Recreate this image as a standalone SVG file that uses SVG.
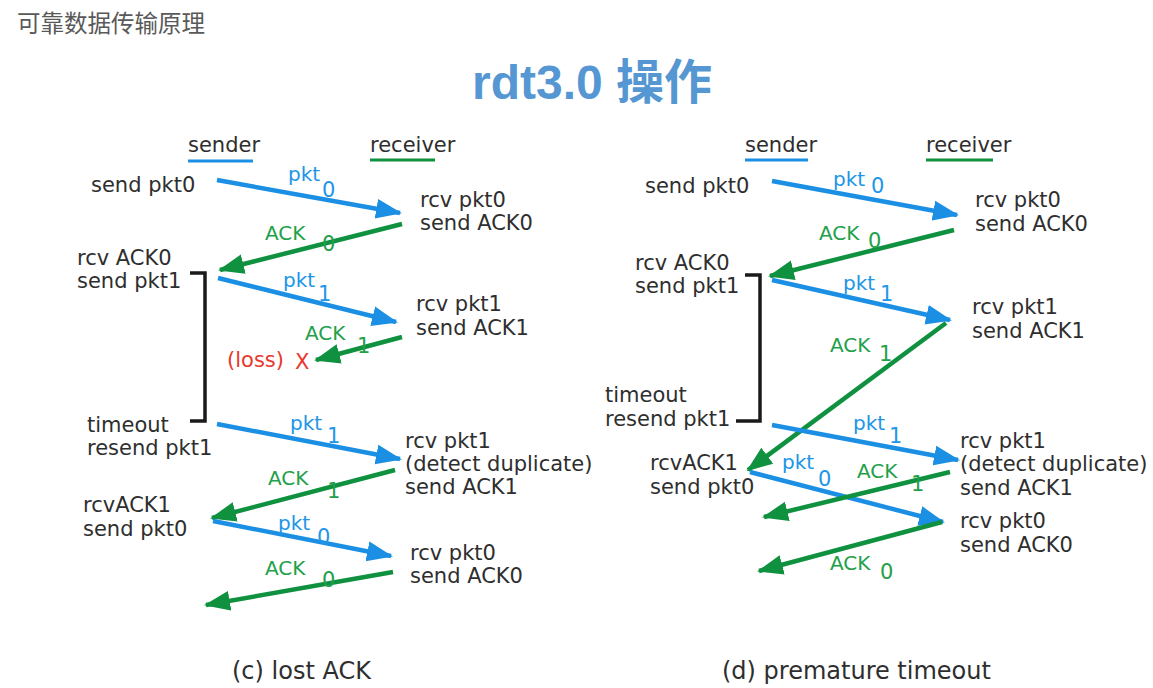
<svg xmlns="http://www.w3.org/2000/svg" width="1153" height="688" viewBox="0 0 1153 688">
<style>
.t{font-family:"DejaVu Sans","Liberation Sans",sans-serif;font-size:21px;fill:#2e2e2e}
.pb{font-family:"DejaVu Sans","Liberation Sans",sans-serif;font-size:20px;fill:#2196E8}
.ag{font-family:"DejaVu Sans","Liberation Sans",sans-serif;font-size:20px;fill:#22A04A}
.sb{font-size:21px}
.red{font-family:"DejaVu Sans","Liberation Sans",sans-serif;font-size:21px;fill:#E8382D}
.cap{font-family:"DejaVu Sans","Liberation Sans",sans-serif;font-size:24px;fill:#2e2e2e}
.b{stroke:#1A8FE3;stroke-width:4.5;fill:none;marker-end:url(#mb)}
.g{stroke:#0F9140;stroke-width:4.5;fill:none;marker-end:url(#mg)}
.br{stroke:#1a1a1a;stroke-width:3.5;fill:none}
</style>
<defs>
<marker id="mb" markerUnits="userSpaceOnUse" markerWidth="26" markerHeight="22" viewBox="0 0 26 22" refX="24" refY="11" orient="auto"><path d="M0,1 L26,11 L0,21 z" fill="#1A8FE3"/></marker>
<marker id="mg" markerUnits="userSpaceOnUse" markerWidth="26" markerHeight="22" viewBox="0 0 26 22" refX="24" refY="11" orient="auto"><path d="M0,1 L26,11 L0,21 z" fill="#0F9140"/></marker>
</defs>
<rect width="1153" height="688" fill="#fff"/>
<text x="17" y="32" style="font-family:'Noto Sans CJK SC',sans-serif;font-size:23.5px;fill:#595959">可靠数据传输原理</text>
<text x="472" y="99" style="font-family:'Liberation Sans','Noto Sans CJK SC',sans-serif;font-size:48px;font-weight:bold;fill:#5597D3">rdt3.0 操作</text>

<g id="connectors">
<line class="b" x1="217" y1="180" x2="400" y2="213"/>
<line class="g" x1="402" y1="224" x2="220" y2="270"/>
<line class="b" x1="218" y1="278" x2="396" y2="322"/>
<line class="g" x1="402" y1="337" x2="316" y2="360"/>
<line class="b" x1="217" y1="424" x2="400" y2="459"/>
<line class="g" x1="395" y1="470" x2="212" y2="518"/>
<line class="b" x1="213" y1="521" x2="391" y2="556"/>
<line class="g" x1="393" y1="572" x2="206" y2="605"/>
<polyline class="br" points="190,273 205,273 205,421 190,421"/>
<line class="b" x1="772" y1="181" x2="957" y2="215"/>
<line class="g" x1="954" y1="230" x2="770" y2="276"/>
<line class="b" x1="772" y1="280" x2="950" y2="320"/>
<line class="g" x1="946" y1="323" x2="748" y2="470"/>
<line class="b" x1="772" y1="425" x2="958" y2="460"/>
<line class="b" x1="750" y1="472" x2="943" y2="522"/>
<line class="g" x1="950" y1="472" x2="764" y2="517"/>
<line class="g" x1="942" y1="522" x2="759" y2="571"/>
<polyline class="br" points="745,275 760,275 760,421 736,421"/>
</g>

<g id="left-header">
<text class="t" x="188" y="152">sender</text>
<line x1="188" y1="161" x2="253" y2="161" stroke="#1A8FE3" stroke-width="3"/>
<text class="t" x="370" y="152">receiver</text>
<line x1="370" y1="160" x2="435" y2="160" stroke="#0F9140" stroke-width="3"/>
</g>
<g id="left-sender">
<text class="t" x="91" y="192">send pkt0</text>
<text class="t" x="77" y="265">rcv ACK0</text>
<text class="t" x="77" y="288">send pkt1</text>
<text class="t" x="87" y="432">timeout</text>
<text class="t" x="87" y="455">resend pkt1</text>
<text class="t" x="83" y="512">rcvACK1</text>
<text class="t" x="83" y="536">send pkt0</text>
</g>
<g id="left-receiver">
<text class="t" x="420" y="207">rcv pkt0</text>
<text class="t" x="420" y="230">send ACK0</text>
<text class="t" x="416" y="311">rcv pkt1</text>
<text class="t" x="416" y="335">send ACK1</text>
<text class="t" x="405" y="448">rcv pkt1</text>
<text class="t" x="405" y="471">(detect duplicate)</text>
<text class="t" x="405" y="494">send ACK1</text>
<text class="t" x="410" y="560">rcv pkt0</text>
<text class="t" x="410" y="583">send ACK0</text>
</g>
<g id="left-labels">
<text class="pb" x="288" y="181">pkt</text><text class="pb sb" x="322" y="197">0</text>
<text class="ag" x="265" y="240">ACK</text><text class="ag sb" x="322" y="251">0</text>
<text class="pb" x="283" y="287">pkt</text><text class="pb sb" x="318" y="301">1</text>
<text class="ag" x="305" y="340">ACK</text><text class="ag sb" x="357" y="353">1</text>
<text class="red" x="227" y="367">(loss)</text><text class="red" x="295" y="369">X</text>
<text class="pb" x="290" y="430">pkt</text><text class="pb sb" x="327" y="443">1</text>
<text class="ag" x="268" y="485">ACK</text><text class="ag sb" x="327" y="498">1</text>
<text class="pb" x="278" y="530">pkt</text><text class="pb sb" x="317" y="544">0</text>
<text class="ag" x="265" y="575">ACK</text><text class="ag sb" x="322" y="587">0</text>
</g>
<g id="caption-c"><text class="cap" x="232" y="679">(c) lost ACK</text></g>

<g id="right-header">
<text class="t" x="745" y="152">sender</text>
<line x1="745" y1="160" x2="808" y2="160" stroke="#1A8FE3" stroke-width="3"/>
<text class="t" x="926" y="152">receiver</text>
<line x1="926" y1="160" x2="993" y2="160" stroke="#0F9140" stroke-width="3"/>
</g>
<g id="right-sender">
<text class="t" x="645" y="193">send pkt0</text>
<text class="t" x="635" y="270">rcv ACK0</text>
<text class="t" x="635" y="293">send pkt1</text>
<text class="t" x="605" y="402">timeout</text>
<text class="t" x="605" y="426">resend pkt1</text>
<text class="t" x="650" y="470">rcvACK1</text>
<text class="t" x="650" y="494">send pkt0</text>
</g>
<g id="right-receiver">
<text class="t" x="975" y="207">rcv pkt0</text>
<text class="t" x="975" y="231">send ACK0</text>
<text class="t" x="972" y="314">rcv pkt1</text>
<text class="t" x="972" y="338">send ACK1</text>
<text class="t" x="960" y="448">rcv pkt1</text>
<text class="t" x="960" y="471">(detect duplicate)</text>
<text class="t" x="960" y="495">send ACK1</text>
<text class="t" x="960" y="528">rcv pkt0</text>
<text class="t" x="960" y="552">send ACK0</text>
</g>
<g id="right-labels">
<text class="pb" x="833" y="186">pkt</text><text class="pb sb" x="871" y="193">0</text>
<text class="ag" x="819" y="240">ACK</text><text class="ag sb" x="868" y="248">0</text>
<text class="pb" x="843" y="290">pkt</text><text class="pb sb" x="880" y="301">1</text>
<text class="ag" x="830" y="352">ACK</text><text class="ag sb" x="879" y="361">1</text>
<text class="pb" x="853" y="430">pkt</text><text class="pb sb" x="889" y="443">1</text>
<text class="pb" x="782" y="469">pkt</text><text class="pb sb" x="818" y="486">0</text>
<text class="ag" x="857" y="478">ACK</text><text class="ag sb" x="911" y="491">1</text>
<text class="ag" x="830" y="570">ACK</text><text class="ag sb" x="880" y="579">0</text>
</g>
<g id="caption-d"><text class="cap" x="722" y="679">(d) premature timeout</text></g>
</svg>
